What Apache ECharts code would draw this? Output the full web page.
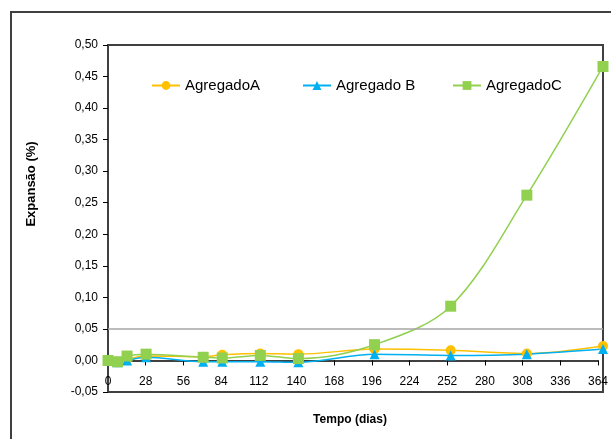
<!DOCTYPE html>
<html>
<head>
<meta charset="utf-8">
<script src="https://cdn.jsdelivr.net/npm/echarts@6/dist/echarts.min.js"></script>
<style>
  html, body { margin: 0; padding: 0; background: #fff; }
  #chart { width: 611px; height: 439px; }
</style>
</head>
<body>
<div id="chart"></div>
<script>
// Expansion readings (%) over time (days) for three aggregates
const days = [0, 7, 14, 28, 70, 84, 112, 140, 196, 252, 308, 364];
const agregadoA = [0.000, -0.003, 0.002, 0.007, 0.006, 0.009, 0.011, 0.010, 0.018, 0.016, 0.011, 0.023];
const agregadoB = [0.000, -0.003, 0.000, 0.005, -0.002, -0.002, -0.002, -0.003, 0.010, 0.008, 0.010, 0.018];
const agregadoC = [0.000, -0.002, 0.007, 0.010, 0.005, 0.004, 0.008, 0.003, 0.025, 0.086, 0.262, 0.466];
const seriesNames = ['AgregadoA', 'Agregado B', 'AgregadoC'];
const limitLine = 0.05;
const xTitle = 'Tempo (dias)';
const yTitle = 'Expansão (%)';
const yMin = -0.05, yMax = 0.5, yStep = 0.05;
const xMin = 0, xMax = 364, xStep = 28;

const FONT = '"Liberation Sans", Arial, sans-serif';
const AXIS = '#404040';

// plot box in pixels
const G = { left: 108, top: 45, right: 8, bottom: 47 };
const H = 439;
const plotH = H - G.top - G.bottom;
// vertical pixel of the zero line, so the time axis can sit on it
const zeroY = G.top + (yMax - 0) / (yMax - yMin) * plotH;

function pairs(xs, ys) { return xs.map((x, i) => [x, ys[i]]); }

function lineSeries(name, values, color, symbol, size) {
  return {
    name: name,
    type: 'line',
    xAxisIndex: 0, yAxisIndex: 0,
    data: pairs(days, values),
    smooth: 0.33,
    symbol: symbol,
    symbolSize: size,
    lineStyle: { color: color, width: 1.5 },
    itemStyle: { color: color },
    emphasis: { disabled: true },
    animation: false
  };
}

const chart = echarts.init(document.getElementById('chart'), null, { renderer: 'canvas' });

const legendBase = {
  top: 78,
  padding: 0,
  itemWidth: 28,
  itemHeight: 11,
  textStyle: { fontFamily: FONT, fontSize: 15, color: '#000' },
  selectedMode: false
};

chart.setOption({
  backgroundColor: '#fff',
  animation: false,
  textStyle: { fontFamily: FONT },
  grid: [
    {
      left: G.left, top: G.top, right: G.right, bottom: G.bottom,
      show: true, borderColor: AXIS, borderWidth: 2, backgroundColor: 'transparent'
    },
    // companion grid whose bottom edge is the zero line; carries the time axis
    {
      left: G.left, top: G.top, right: G.right, bottom: H - zeroY,
      show: false
    }
  ],
  legend: [
    Object.assign({}, legendBase, { left: 151, data: [seriesNames[0]] }),
    Object.assign({}, legendBase, { left: 302, data: [seriesNames[1]] }),
    Object.assign({}, legendBase, { left: 452, data: [seriesNames[2]] })
  ],
  xAxis: [
    {
      type: 'value', gridIndex: 0,
      min: xMin, max: xMax, interval: xStep,
      axisLine: { show: false },
      axisTick: { show: false },
      axisLabel: { show: false },
      splitLine: { show: false }
    },
    {
      type: 'value', gridIndex: 1, position: 'bottom',
      min: xMin, max: xMax, interval: xStep,
      axisLine: { show: true, onZero: false, lineStyle: { color: AXIS, width: 2 } },
      axisTick: { show: true, inside: false, length: 5, lineStyle: { color: '#000', width: 1 } },
      axisLabel: {
        margin: 15, fontSize: 12, color: '#000', fontFamily: FONT,
        showMinLabel: true, showMaxLabel: true, hideOverlap: false
      },
      splitLine: { show: false },
      z: 1
    }
  ],
  yAxis: [
    {
      type: 'value', gridIndex: 0,
      min: yMin, max: yMax, interval: yStep,
      axisLine: { show: true, onZero: false, lineStyle: { color: AXIS, width: 2 } },
      axisTick: { show: true, inside: false, length: 5, lineStyle: { color: '#000', width: 1 } },
      axisLabel: {
        margin: 10, fontSize: 12, color: '#000', fontFamily: FONT,
        formatter: v => v.toFixed(2).replace('.', ',')
      },
      splitLine: { show: false }
    },
    {
      type: 'value', gridIndex: 1, min: 0, max: 1, show: false
    }
  ],
  series: [
    Object.assign(lineSeries(seriesNames[0], agregadoA, '#FFC000', 'circle', 10), {
      markLine: {
        silent: true,
        symbol: ['none', 'none'],
        label: { show: false },
        lineStyle: { color: '#a6a6a6', width: 1.5, type: 'solid' },
        data: [{ yAxis: limitLine }],
        animation: false
      }
    }),
    lineSeries(seriesNames[1], agregadoB, '#00B0F0', 'triangle', 10),
    lineSeries(seriesNames[2], agregadoC, '#92D050', 'rect', 11)
  ],
  graphic: [
    {
      type: 'rect', silent: true, z: -1,
      shape: { x: 11, y: 12, width: 720, height: 520 },
      style: { fill: 'none', stroke: AXIS, lineWidth: 2 }
    },
    {
      type: 'text', silent: true,
      x: 31, y: 184, rotation: Math.PI / 2,
      style: {
        text: yTitle, fontFamily: FONT, fontSize: 13, fontWeight: 'bold',
        fill: '#000', align: 'center', verticalAlign: 'middle'
      }
    },
    {
      type: 'text', silent: true,
      x: 350, y: 420,
      style: {
        text: xTitle, fontFamily: FONT, fontSize: 12, fontWeight: 'bold',
        fill: '#000', align: 'center', verticalAlign: 'middle'
      }
    }
  ]
});
</script>
</body>
</html>
